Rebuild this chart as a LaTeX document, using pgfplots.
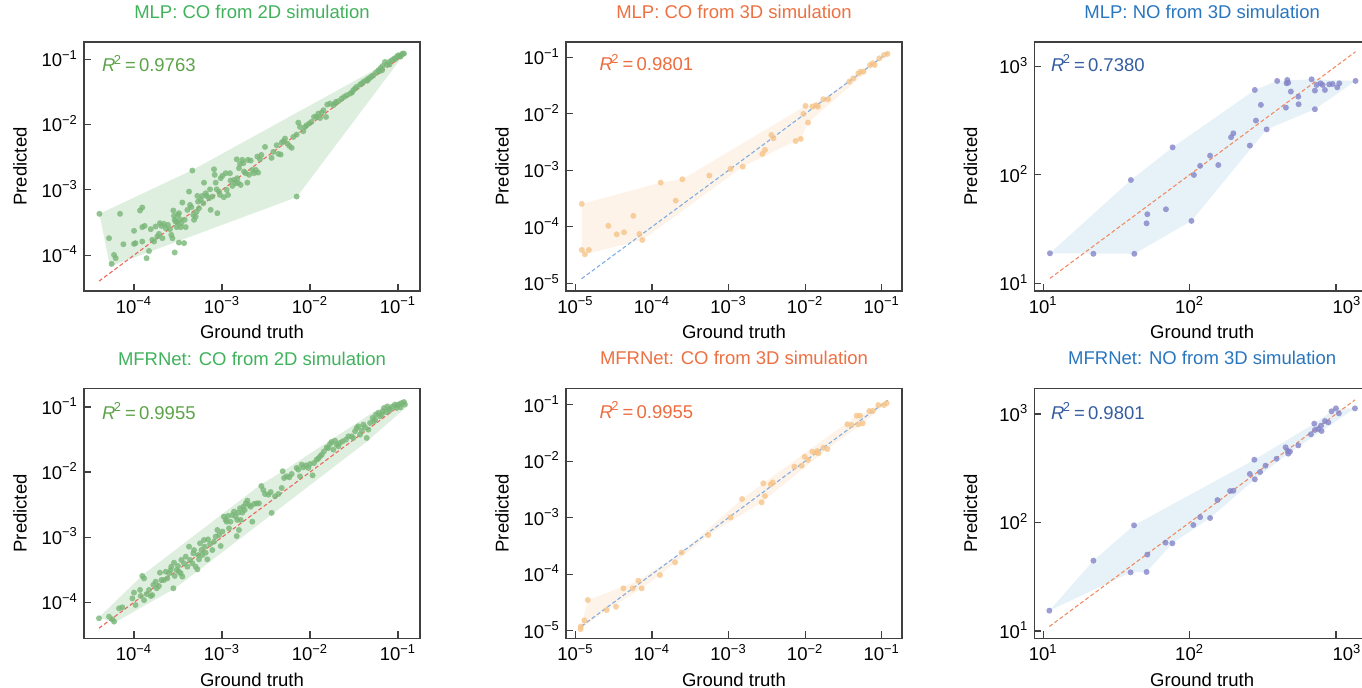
\documentclass[border=0pt]{standalone}
\usepackage{fontspec}
\setmainfont{Liberation Sans}
\usepackage{pgfplots}
\pgfplotsset{compat=1.18}

\definecolor{frame}{RGB}{64,64,64}
\definecolor{gTitle}{RGB}{64,178,92}
\definecolor{gR}{RGB}{92,163,72}
\definecolor{gPt}{RGB}{120,182,120}
\definecolor{gHull}{RGB}{223,239,223}
\definecolor{gLine}{RGB}{236,104,92}
\definecolor{oTitle}{RGB}{236,112,66}
\definecolor{oR}{RGB}{236,108,62}
\definecolor{oPt}{RGB}{246,196,138}
\definecolor{oHull}{RGB}{253,243,232}
\definecolor{oLine}{RGB}{128,174,228}
\definecolor{bTitle}{RGB}{40,118,192}
\definecolor{bR}{RGB}{52,92,160}
\definecolor{bPt}{RGB}{132,132,200}
\definecolor{bHull}{RGB}{231,242,248}
\definecolor{bLine}{RGB}{240,140,100}

\pgfplotsset{every axis/.append style={
    scale only axis,
    axis line style={draw=frame, line width=0.75pt},
    tick style={draw=frame, line width=0.6pt},
    major tick length=3.5pt, minor tick length=0pt,
    tick align=inside, tick pos=left,
    xticklabel style={anchor=base, inner sep=0pt, yshift=-11.15pt},
    yticklabel style={anchor=base east, inner sep=0pt, xshift=-2.85pt, yshift=-3.7pt},
    title style={at={(0.5,1)}, anchor=base, yshift=5.65pt},
    xlabel style={at={(axis description cs:0.5,-0.1928)}, anchor=base},
    ylabel style={at={(axis description cs:-0.1705,0.5)}, anchor=base},
}}

\newcommand{\rsq}[1]{\textit{R}\kern-0.8pt\textsuperscript{2}\,=\,#1}

\begin{document}
\fontsize{9.25}{11}\selectfont
\begin{tikzpicture}

% ---------- MLP, CO, 2D ----------
\begin{axis}[xmode=log, ymode=log, width=168pt, height=124.5pt,
  anchor=south west, at={(42pt,198.5pt)},
  xmin=2.70e-5, xmax=0.1778, ymin=2.83e-5, ymax=0.1841,
  xtick={1e-4,1e-3,1e-2,1e-1}, ytick={1e-4,1e-3,1e-2,1e-1},
  xticklabels={10\textsuperscript{−4},10\textsuperscript{−3},10\textsuperscript{−2},10\textsuperscript{−1}},
  yticklabels={10\textsuperscript{−4},10\textsuperscript{−3},10\textsuperscript{−2},10\textsuperscript{−1}},
  title={MLP: CO from 2D simulation}, title style={text=gTitle},
  xlabel={Ground truth}, ylabel={Predicted}]
\addplot[draw=none, fill=gHull] coordinates {(4.04e-5,4.30e-4) (4.64e-4,2.02e-3) (1.20e-1,1.24e-1) (7.05e-3,7.73e-4) (5.33e-5,6.71e-5) (4.04e-5,4.30e-4)};
\addplot[only marks, mark=*, mark size=1.5pt, mark options={draw=gPt, fill=gPt, fill opacity=0.8, draw opacity=0}] coordinates {
(4.04e-5,4.30e-4) (6.93e-5,4.30e-4) (5.20e-5,1.82e-4) (5.57e-5,7.36e-5) (5.93e-5,1.01e-4)
(6.19e-5,9.0e-5) (7.57e-5,1.47e-4) (1.0e-4,2.36e-4) (1.0e-4,1.49e-4) (1.04e-4,1.53e-4)
(1.17e-4,4.83e-4) (1.24e-4,5.37e-4) (1.24e-4,2.69e-4) (1.32e-4,2.81e-4) (1.24e-4,1.62e-4)
(1.39e-4,9.0e-5) (1.48e-4,1.16e-4) (1.55e-4,2.50e-4) (1.61e-4,1.72e-4) (1.69e-4,1.62e-4)
(1.76e-4,2.75e-4) (1.84e-4,1.93e-4) (1.92e-4,2.12e-4) (1.97e-4,3.09e-4) (2.05e-4,2.81e-4)
(2.10e-4,1.82e-4) (2.19e-4,3.02e-4) (2.29e-4,2.59e-4) (2.43e-4,2.91e-4) (2.56e-4,2.50e-4)
(2.65e-4,2.05e-4) (2.73e-4,1.82e-4) (2.80e-4,4.83e-4) (2.85e-4,4.0e-4) (2.90e-4,1.10e-4)
(2.90e-4,3.48e-4) (2.97e-4,3.27e-4) (3.05e-4,2.69e-4) (3.11e-4,3.16e-4) (3.16e-4,4.14e-4)
(3.24e-4,4.40e-4) (3.33e-4,3.56e-4) (3.39e-4,2.69e-4) (3.45e-4,3.09e-4) (3.54e-4,6.40e-4)
(3.24e-4,1.56e-4) (3.70e-4,1.53e-4) (3.77e-4,3.48e-4) (3.87e-4,2.69e-4) (4.04e-4,4.94e-4)
(4.22e-4,9.42e-4) (4.33e-4,5.89e-4) (4.48e-4,5.43e-4) (4.60e-4,1.98e-3) (4.72e-4,4.14e-4)
(4.81e-4,3.48e-4) (5.02e-4,3.91e-4) (5.15e-4,4.66e-4) (5.25e-4,8.09e-4) (5.34e-4,6.62e-4)
(5.48e-4,5.24e-4) (5.73e-4,7.03e-4) (5.98e-4,8.09e-4) (6.14e-4,6.25e-4) (6.24e-4,1.29e-3)
(6.52e-4,8.89e-4) (6.70e-4,8.09e-4) (7.11e-4,7.45e-4) (7.31e-4,1.02e-3) (7.43e-4,4.94e-4)
(7.76e-4,7.91e-4) (8.11e-4,2.07e-3) (8.26e-4,1.70e-3) (8.47e-4,1.29e-3) (8.69e-4,1.02e-3)
(8.85e-4,4.40e-4) (9.25e-4,9.42e-4) (9.48e-4,8.38e-4) (9.66e-4,1.51e-3) (1.01e-3,1.64e-3)
(1.05e-3,7.73e-4) (1.10e-3,1.80e-3) (1.13e-3,1.0e-3) (1.17e-3,8.38e-4) (1.23e-3,1.80e-3)
(1.25e-3,1.39e-3) (1.31e-3,1.15e-3) (1.37e-3,1.42e-3) (1.43e-3,1.26e-3) (1.47e-3,2.94e-3)
(1.49e-3,1.51e-3) (1.52e-3,1.29e-3) (1.56e-3,2.15e-3) (1.60e-3,2.50e-3) (1.63e-3,1.19e-3)
(1.70e-3,2.88e-3) (1.75e-3,2.56e-3) (1.78e-3,1.91e-3) (1.86e-3,1.80e-3) (1.94e-3,1.29e-3)
(1.97e-3,2.88e-3) (2.03e-3,1.70e-3) (2.12e-3,2.81e-3) (2.21e-3,2.02e-3) (2.31e-3,1.80e-3)
(2.42e-3,2.02e-3) (2.52e-3,3.24e-3) (2.57e-3,1.84e-3) (2.70e-3,2.94e-3) (2.80e-3,3.43e-3)
(3.08e-3,4.55e-3) (3.66e-3,3.09e-3) (3.83e-3,3.82e-3) (4.18e-3,4.83e-3) (4.37e-3,3.56e-3)
(4.64e-3,3.48e-3) (4.77e-3,5.30e-3) (4.98e-3,5.55e-3) (5.20e-3,6.11e-3) (5.52e-3,5.12e-3)
(5.82e-3,4.71e-3) (6.19e-3,4.40e-3) (6.47e-3,6.47e-3) (7.05e-3,7.03e-3) (7.05e-3,7.91e-4)
(7.36e-3,1.07e-2) (7.69e-3,9.20e-3) (8.39e-3,7.91e-3) (8.77e-3,9.20e-3) (9.16e-3,9.77e-3)
(9.82e-3,1.04e-2) (1.04e-2,1.10e-2) (1.11e-2,1.31e-2) (1.19e-2,1.31e-2) (1.24e-2,1.47e-2)
(1.30e-2,1.26e-2) (1.36e-2,1.53e-2) (1.42e-2,1.66e-2) (1.52e-2,1.31e-2) (1.57e-2,2.02e-2)
(1.69e-2,2.10e-2) (1.84e-2,1.98e-2) (1.92e-2,2.10e-2) (1.97e-2,2.22e-2) (2.10e-2,2.28e-2)
(2.29e-2,2.50e-2) (2.43e-2,2.65e-2) (2.61e-2,2.81e-2) (2.85e-2,2.98e-2) (3.00e-2,3.10e-2)
(3.10e-2,3.36e-2) (3.25e-2,3.56e-2) (3.39e-2,3.78e-2) (3.70e-2,4.09e-2) (3.87e-2,4.25e-2)
(4.04e-2,4.50e-2) (4.33e-2,4.77e-2) (4.50e-2,4.70e-2) (4.60e-2,5.06e-2) (4.81e-2,5.18e-2)
(5.02e-2,5.50e-2) (5.25e-2,5.69e-2) (5.62e-2,6.25e-2) (5.98e-2,6.79e-2) (6.14e-2,6.55e-2)
(6.35e-2,7.36e-2) (6.60e-2,6.80e-2) (6.70e-2,7.91e-2) (7.11e-2,9.10e-2) (7.43e-2,8.28e-2)
(7.98e-2,9.10e-2) (8.00e-2,8.30e-2) (8.48e-2,9.66e-2) (9.02e-2,1.02e-1) (9.25e-2,1.00e-1)
(9.66e-2,1.09e-1) (1.01e-1,1.15e-1) (1.04e-1,1.12e-1) (1.07e-1,1.10e-1) (1.10e-1,1.18e-1)
(1.13e-1,1.22e-1) (1.17e-1,1.22e-1)
};
\addplot[gLine, line width=0.55pt, dash pattern=on 2pt off 1.2pt] coordinates {(4.0e-5,4.0e-5) (1.2e-1,1.2e-1)};
\node[anchor=base west, inner sep=0pt, text=gR] at (rel axis cs:0.0527,0.8807) {\rsq{0.9763}};
\end{axis}

% ---------- MLP, CO, 3D ----------
\begin{axis}[xmode=log, ymode=log, width=168pt, height=124.5pt,
  anchor=south west, at={(283pt,198.5pt)},
  xmin=7.53e-6, xmax=0.184, ymin=7.31e-6, ymax=0.1866,
  xtick={1e-5,1e-4,1e-3,1e-2,1e-1}, ytick={1e-5,1e-4,1e-3,1e-2,1e-1},
  xticklabels={10\textsuperscript{−5},10\textsuperscript{−4},10\textsuperscript{−3},10\textsuperscript{−2},10\textsuperscript{−1}},
  yticklabels={10\textsuperscript{−5},10\textsuperscript{−4},10\textsuperscript{−3},10\textsuperscript{−2},10\textsuperscript{−1}},
  title={MLP: CO from 3D simulation}, title style={text=oTitle},
  xlabel={Ground truth}, ylabel={Predicted}]
\addplot[draw=none, fill=oHull] coordinates {(1.21e-5,2.54e-4) (1.30e-4,6.05e-4) (2.49e-4,6.93e-4) (1.01e-2,1.38e-2) (1.73e-2,1.81e-2) (5.31e-2,5.70e-2) (1.19e-1,1.15e-1) (1.09e-2,6.98e-3) (8.75e-3,3.59e-3) (7.52e-3,3.30e-3) (1.53e-3,1.16e-3) (7.48e-5,5.85e-5) (1.33e-5,3.26e-5) (1.21e-5,3.89e-5) (1.21e-5,2.54e-4)};
\addplot[only marks, mark=*, mark size=1.5pt, mark options={draw=oPt, fill=oPt, fill opacity=0.8, draw opacity=0}] coordinates {
(1.21e-5,2.54e-4) (1.21e-5,3.89e-5) (1.33e-5,3.26e-5) (1.50e-5,3.89e-5) (2.69e-5,1.04e-4)
(3.46e-5,7.36e-5) (4.31e-5,8.0e-5) (5.70e-5,1.56e-4) (6.84e-5,7.46e-5) (7.48e-5,5.85e-5)
(1.30e-4,6.05e-4) (2.04e-4,2.90e-4) (2.49e-4,6.93e-4) (5.61e-4,8.05e-4) (1.06e-3,1.06e-3)
(1.53e-3,1.16e-3) (2.76e-3,1.95e-3) (2.99e-3,2.29e-3) (3.62e-3,4.22e-3) (3.85e-3,3.68e-3)
(7.52e-3,3.30e-3) (8.75e-3,3.59e-3) (1.01e-2,1.38e-2) (9.48e-3,9.93e-3) (1.09e-2,6.98e-3)
(1.25e-2,1.34e-2) (1.39e-2,1.41e-2) (1.47e-2,1.34e-2) (1.73e-2,1.81e-2) (1.99e-2,1.81e-2)
(3.78e-2,3.71e-2) (4.26e-2,4.25e-2) (4.95e-2,5.21e-2) (5.31e-2,5.57e-2) (5.75e-2,5.57e-2)
(7.03e-2,7.31e-2) (7.62e-2,7.83e-2) (8.09e-2,7.31e-2) (9.31e-2,9.59e-2) (1.07e-1,1.10e-1)
(1.19e-1,1.15e-1)
};
\addplot[oLine, line width=0.55pt, dash pattern=on 2pt off 1.2pt] coordinates {(1.2e-5,1.2e-5) (1.2e-1,1.2e-1)};
\node[anchor=base west, inner sep=0pt, text=oR] at (rel axis cs:0.099,0.8847) {\rsq{0.9801}};
\end{axis}

% ---------- MLP, NO, 3D (right edge runs past the page) ----------
\begin{axis}[xmode=log, ymode=log, width=167.85pt, height=124.5pt,
  anchor=south west, at={(517.15pt,198.5pt)}, axis y line*=left,
  xmin=8.68, xmax=1710, ymin=8.49, ymax=1675,
  xtick={10,100,1000}, ytick={10,100,1000},
  xticklabels={10\textsuperscript{1},10\textsuperscript{2},\hspace*{11pt}10\textsuperscript{3}},
  yticklabels={10\textsuperscript{1},10\textsuperscript{2},10\textsuperscript{3}},
  title={MLP: NO from 3D simulation}, title style={text=bTitle},
  xlabel={Ground truth}, ylabel={Predicted}]
\addplot[draw=none, fill=bHull] coordinates {(11.1,18.9) (39.7,89.5) (76.5,179) (279,605) (397,733) (682,759) (1361,733) (718,402) (336,262) (103,37.6) (41.9,18.7) (11.1,18.9)};
\addplot[only marks, mark=*, mark size=1.5pt, mark options={draw=bPt, fill=bPt, fill opacity=0.8, draw opacity=0}] coordinates {
(11.1,18.9) (22.0,18.7) (41.9,18.7) (39.7,89.5) (50.8,35.7) (51.4,43.3) (68.9,48.1)
(76.5,179) (103,37.6) (107,99.6) (118,121) (138,150) (157,123) (192,222) (199,241)
(258,186) (279,605) (284,316) (307,441) (336,262) (397,733) (460,697) (465,748)
(472,706) (455,416) (492,585) (553,525) (556,447) (682,759) (718,597) (718,402)
(738,673) (785,697) (811,673) (841,605) (900,682) (948,687) (1021,640) (1054,697)
(1361,733)
};
\addplot[bLine, line width=0.55pt, dash pattern=on 2pt off 1.2pt] coordinates {(11.1,11.1) (1361,1361)};
\node[anchor=base west, inner sep=0pt, text=bR] at (rel axis cs:0.0489,0.881) {\rsq{0.7380}};
\end{axis}

% ---------- MFRNet, CO, 2D ----------
\begin{axis}[xmode=log, ymode=log, width=168pt, height=125.1pt,
  anchor=south west, at={(42pt,24.75pt)},
  xmin=2.70e-5, xmax=0.1778, ymin=2.78e-5, ymax=0.1936,
  xtick={1e-4,1e-3,1e-2,1e-1}, ytick={1e-4,1e-3,1e-2,1e-1},
  xticklabels={10\textsuperscript{−4},10\textsuperscript{−3},10\textsuperscript{−2},10\textsuperscript{−1}},
  yticklabels={10\textsuperscript{−4},10\textsuperscript{−3},10\textsuperscript{−2},10\textsuperscript{−1}},
  title={MFRNet: CO from 2D simulation}, title style={text=gTitle},
  xlabel={Ground truth}, ylabel={Predicted}]
\addplot[draw=none, fill=gHull] coordinates {(3.96e-5,5.81e-5) (1.28e-4,2.69e-4) (2.75e-3,6.4e-3) (4.98e-3,1.04e-2) (5.73e-2,9.0e-2) (1.23e-1,1.21e-1) (1.20e-1,9.55e-2) (4.41e-2,2.93e-2) (3.83e-3,2.33e-3) (2.92e-4,1.64e-4) (6.08e-5,4.92e-5) (3.96e-5,5.81e-5)};
\addplot[only marks, mark=*, mark size=1.5pt, mark options={draw=gPt, fill=gPt, fill opacity=0.8, draw opacity=0}] coordinates {
(4.0e-5,5.68e-5) (5.2e-5,6.01e-5) (5.68e-5,5.47e-5) (5.93e-5,5.05e-5) (6.76e-5,8.07e-5)
(7.36e-5,8.37e-5) (9.58e-5,1.15e-4) (1.0e-4,1.41e-4) (1.04e-4,9.08e-5) (1.17e-4,1.55e-4)
(1.19e-4,1.25e-4) (1.24e-4,2.54e-4) (1.30e-4,2.33e-4) (1.30e-4,1.08e-4) (1.39e-4,1.34e-4)
(1.48e-4,1.55e-4) (1.55e-4,1.25e-4) (1.61e-4,1.29e-4) (1.66e-4,1.85e-4) (1.76e-4,2.07e-4)
(1.81e-4,1.64e-4) (1.92e-4,1.78e-4) (1.97e-4,2.85e-4) (2.05e-4,2.20e-4) (2.19e-4,2.20e-4)
(2.29e-4,2.95e-4) (2.39e-4,2.33e-4) (2.50e-4,2.79e-4) (2.61e-4,3.13e-4) (2.65e-4,3.52e-4)
(2.80e-4,1.64e-4) (2.85e-4,4.06e-4) (2.90e-4,2.54e-4) (3.05e-4,3.13e-4) (3.16e-4,3.61e-4)
(3.24e-4,2.95e-4) (3.39e-4,2.79e-4) (3.45e-4,4.47e-4) (3.54e-4,2.48e-4) (3.70e-4,3.97e-4)
(3.87e-4,5.02e-4) (4.04e-4,3.52e-4) (4.22e-4,7.16e-4) (4.33e-4,4.47e-4) (4.60e-4,3.97e-4)
(4.72e-4,5.65e-4) (4.81e-4,6.35e-4) (5.02e-4,3.52e-4) (5.25e-4,3.21e-4) (5.34e-4,5.32e-4)
(5.48e-4,4.57e-4) (5.62e-4,8.05e-4) (5.82e-4,6.35e-4) (5.98e-4,5.32e-4) (6.24e-4,9.06e-4)
(6.35e-4,7.16e-4) (6.52e-4,5.79e-4) (6.81e-4,4.57e-4) (6.93e-4,9.27e-4) (7.31e-4,7.87e-4)
(7.76e-4,6.35e-4) (8.11e-4,8.53e-4) (8.47e-4,1.02e-3) (8.85e-4,1.29e-3) (9.25e-4,1.08e-3)
(9.66e-4,7.33e-4) (1.01e-3,1.22e-3) (1.05e-3,2.07e-3) (1.10e-3,1.84e-3) (1.13e-3,1.73e-3)
(1.17e-3,2.12e-3) (1.20e-3,1.37e-3) (1.25e-3,1.73e-3) (1.31e-3,2.19e-3) (1.37e-3,2.47e-3)
(1.43e-3,2.07e-3) (1.47e-3,1.04e-3) (1.49e-3,1.84e-3) (1.52e-3,2.38e-3) (1.56e-3,1.29e-3)
(1.60e-3,2.78e-3) (1.63e-3,1.84e-3) (1.70e-3,2.38e-3) (1.75e-3,2.94e-3) (1.81e-3,2.62e-3)
(1.86e-3,3.31e-3) (1.94e-3,3.64e-3) (2.03e-3,3.12e-3) (2.12e-3,2.94e-3) (2.21e-3,1.73e-3)
(2.31e-3,3.24e-3) (2.48e-3,3.31e-3) (2.63e-3,3.31e-3) (2.80e-3,6.11e-3) (2.95e-3,5.31e-3)
(3.08e-3,4.61e-3) (3.37e-3,4.50e-3) (3.57e-3,4.94e-3) (3.66e-3,2.36e-3) (4.0e-3,4.25e-3)
(4.37e-3,4.61e-3) (4.77e-3,5.70e-3) (4.89e-3,1.03e-2) (5.07e-3,8.11e-3) (5.43e-3,8.61e-3)
(5.82e-3,8.32e-3) (6.19e-3,9.35e-3) (7.05e-3,1.16e-2) (7.36e-3,1.09e-2) (7.69e-3,8.61e-3)
(8.04e-3,1.30e-2) (8.39e-3,1.18e-2) (9.01e-3,1.27e-2) (9.58e-3,1.16e-2) (1.0e-2,1.33e-2)
(1.07e-2,8.91e-3) (1.11e-2,1.38e-2) (1.19e-2,1.55e-2) (1.24e-2,1.61e-2) (1.30e-2,1.75e-2)
(1.36e-2,1.85e-2) (1.44e-2,2.08e-2) (1.55e-2,2.40e-2) (1.61e-2,2.34e-2) (1.69e-2,2.70e-2)
(1.76e-2,2.90e-2) (1.84e-2,2.21e-2) (1.92e-2,3.04e-2) (2.01e-2,2.64e-2) (2.10e-2,2.49e-2)
(2.19e-2,2.80e-2) (2.35e-2,2.97e-2) (2.56e-2,3.15e-2) (2.73e-2,3.54e-2) (2.97e-2,3.54e-2)
(3.10e-2,3.34e-2) (3.25e-2,4.23e-2) (3.39e-2,4.75e-2) (3.54e-2,5.05e-2) (3.70e-2,3.76e-2)
(3.87e-2,4.33e-2) (4.04e-2,5.35e-2) (4.22e-2,4.88e-2) (4.41e-2,3.34e-2) (4.60e-2,4.49e-2)
(4.81e-2,5.68e-2) (5.15e-2,6.78e-2) (5.33e-2,6.03e-2) (5.48e-2,6.38e-2) (5.62e-2,7.62e-2)
(5.98e-2,8.09e-2) (6.24e-2,7.19e-2) (6.52e-2,7.62e-2) (6.70e-2,8.57e-2) (6.93e-2,9.66e-2)
(7.31e-2,8.38e-2) (7.57e-2,1.02e-1) (7.98e-2,8.79e-2) (8.11e-2,9.42e-2) (8.69e-2,1.02e-1)
(9.25e-2,1.09e-1) (9.66e-2,9.66e-2) (9.82e-2,1.06e-1) (1.04e-1,1.11e-1) (1.07e-1,9.89e-2)
(1.10e-1,1.15e-1) (1.17e-1,1.19e-1) (1.20e-1,1.09e-1)
};
\addplot[gLine, line width=0.55pt, dash pattern=on 2pt off 1.2pt] coordinates {(4.0e-5,4.0e-5) (1.2e-1,1.2e-1)};
\node[anchor=base west, inner sep=0pt, text=gR] at (rel axis cs:0.0527,0.877) {\rsq{0.9955}};
\end{axis}

% ---------- MFRNet, CO, 3D ----------
\begin{axis}[xmode=log, ymode=log, width=168pt, height=125.1pt,
  anchor=south west, at={(283pt,24.75pt)},
  xmin=7.53e-6, xmax=0.184, ymin=7.28e-6, ymax=0.195,
  xtick={1e-5,1e-4,1e-3,1e-2,1e-1}, ytick={1e-5,1e-4,1e-3,1e-2,1e-1},
  xticklabels={10\textsuperscript{−5},10\textsuperscript{−4},10\textsuperscript{−3},10\textsuperscript{−2},10\textsuperscript{−1}},
  yticklabels={10\textsuperscript{−5},10\textsuperscript{−4},10\textsuperscript{−3},10\textsuperscript{−2},10\textsuperscript{−1}},
  title={MFRNet: CO from 3D simulation}, title style={text=oTitle},
  xlabel={Ground truth}, ylabel={Predicted}]
\addplot[draw=none, fill=oHull] coordinates {(1.17e-5,1.07e-5) (1.45e-5,3.49e-5) (6.64e-5,7.67e-5) (2.44e-4,2.43e-4) (1.50e-3,2.14e-3) (2.84e-3,4.06e-3) (4.71e-2,6.38e-2) (5.21e-2,6.38e-2) (9.04e-2,1.0e-1) (1.16e-1,1.06e-1) (1.07e-1,9.86e-2) (5.64e-2,4.68e-2) (1.95e-2,1.64e-2) (2.70e-3,1.87e-3) (5.44e-4,4.93e-4) (1.27e-4,9.66e-5) (7.33e-5,5.61e-5) (2.56e-5,2.32e-5) (1.17e-5,1.07e-5)};
\addplot[only marks, mark=*, mark size=1.5pt, mark options={draw=oPt, fill=oPt, fill opacity=0.8, draw opacity=0}] coordinates {
(1.17e-5,1.07e-5) (1.17e-5,1.18e-5) (1.31e-5,1.52e-5) (1.45e-5,3.49e-5) (2.56e-5,2.32e-5)
(3.39e-5,2.66e-5) (4.23e-5,5.61e-5) (5.58e-5,5.61e-5) (6.64e-5,7.67e-5) (7.33e-5,5.61e-5)
(1.27e-4,9.66e-5) (2.0e-4,1.62e-4) (2.44e-4,2.43e-4) (5.44e-4,4.93e-4) (1.06e-3,1.01e-3)
(1.50e-3,2.14e-3) (2.70e-3,1.87e-3) (2.84e-3,4.06e-3) (2.99e-3,2.42e-3) (3.55e-3,3.89e-3)
(3.77e-3,4.22e-3) (7.23e-3,8.0e-3) (9.01e-3,8.32e-3) (9.86e-3,1.20e-2) (1.09e-2,1.05e-2)
(1.24e-2,1.47e-2) (1.39e-2,1.43e-2) (1.44e-2,1.51e-2) (1.49e-2,1.38e-2) (1.73e-2,1.73e-2)
(1.95e-2,1.64e-2) (3.56e-2,4.49e-2) (4.05e-2,4.37e-2) (4.71e-2,6.38e-2) (4.95e-2,4.49e-2)
(5.21e-2,6.38e-2) (5.64e-2,4.68e-2) (6.89e-2,7.73e-2) (7.62e-2,7.73e-2) (9.04e-2,9.86e-2)
(1.07e-1,9.86e-2) (1.16e-1,1.06e-1)
};
\addplot[oLine, line width=0.55pt, dash pattern=on 2pt off 1.2pt] coordinates {(1.2e-5,1.2e-5) (1.2e-1,1.2e-1)};
\node[anchor=base west, inner sep=0pt, text=oR] at (rel axis cs:0.099,0.880) {\rsq{0.9955}};
\end{axis}

% ---------- MFRNet, NO, 3D (right edge runs past the page) ----------
\begin{axis}[xmode=log, ymode=log, width=167.85pt, height=125.1pt,
  anchor=south west, at={(517.15pt,24.75pt)}, axis y line*=left,
  xmin=8.68, xmax=1710, ymin=8.53, ymax=1726,
  xtick={10,100,1000}, ytick={10,100,1000},
  xticklabels={10\textsuperscript{1},10\textsuperscript{2},\hspace*{11pt}10\textsuperscript{3}},
  yticklabels={10\textsuperscript{1},10\textsuperscript{2},10\textsuperscript{3}},
  title={MFRNet: NO from 3D simulation}, title style={text=bTitle},
  xlabel={Ground truth}, ylabel={Predicted}]
\addplot[draw=none, fill=bHull] coordinates {(11.0,15.4) (22.0,44.5) (41.7,94.2) (277,379) (711,815) (1000,1127) (1349,1127) (798,697) (472,431) (279,250) (138,110) (76.2,64.3) (50.8,35.0) (39.5,34.7) (11.0,15.4)};
\addplot[only marks, mark=*, mark size=1.5pt, mark options={draw=bPt, fill=bPt, fill opacity=0.8, draw opacity=0}] coordinates {
(11.0,15.4) (22.0,44.5) (39.5,34.7) (41.7,94.2) (50.8,35.0) (51.4,50.6) (68.5,65.2)
(76.2,64.3) (106,94.8) (118,112) (138,110) (155,161) (189,195) (199,196) (258,280)
(277,379) (279,250) (303,292) (330,334) (393,387) (453,493) (468,456) (472,431)
(485,450) (553,514) (675,650) (711,815) (718,713) (757,728) (791,780) (798,697)
(841,861) (887,837) (933,1059) (1000,1127) (1047,1014) (1349,1127)
};
\addplot[bLine, line width=0.55pt, dash pattern=on 2pt off 1.2pt] coordinates {(11.0,11.0) (1349,1349)};
\node[anchor=base west, inner sep=0pt, text=bR] at (rel axis cs:0.0489,0.877) {\rsq{0.9801}};
\end{axis}

\pgfresetboundingbox
\path[use as bounding box] (0,0) rectangle (681pt,344pt);
\end{tikzpicture}
\end{document}
